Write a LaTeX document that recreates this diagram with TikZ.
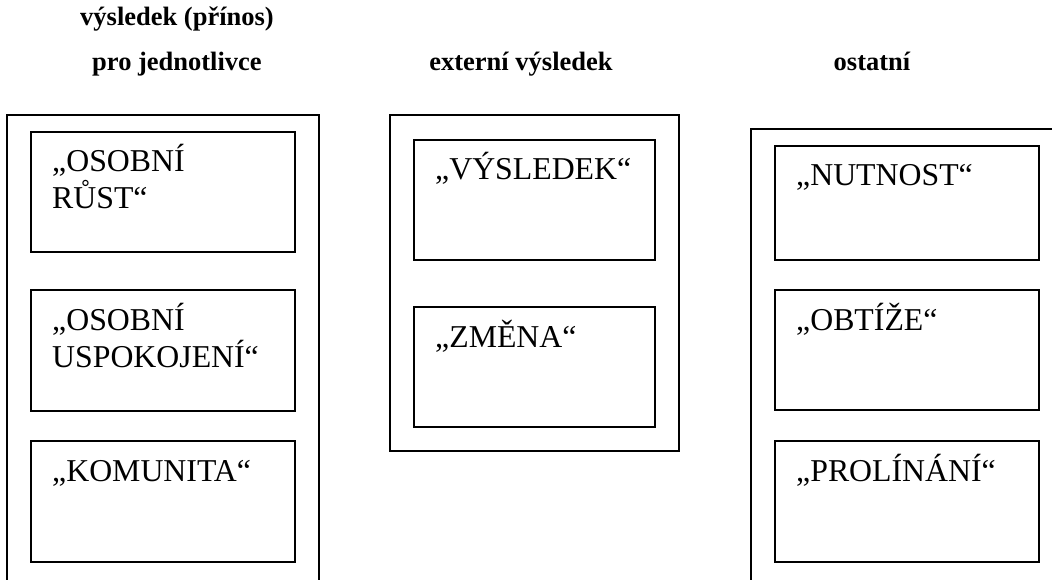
\documentclass[tikz,border=0pt]{standalone}
\usepackage{fontspec}
\setmainfont{Liberation Serif}
\newcommand{\twoln}[2]{\vtop{\hbox{#1}\hbox{#2}}}
\begin{document}
\begin{tikzpicture}[x=1pt,y=-1pt,
  frame/.style={draw, line width=1.6pt, rectangle, inner sep=0pt, outer sep=0pt, anchor=north west},
  card/.style={draw, line width=1.6pt, rectangle, inner sep=0pt, outer sep=0pt, anchor=north west, minimum height=120pt},
  lbl/.style={anchor=base west, inner sep=0pt, font=\fontsize{31.8}{37}\selectfont},
  head/.style={anchor=base, inner sep=0pt, font=\bfseries\fontsize{26.5}{30}\selectfont}]
\path[use as bounding box] (0,0) rectangle (1052,580);
\clip (0,0) rectangle (1052,580);
% headers
\node[head] (h1a) at (177,26) {výsledek (přínos)};
\node[head] (h1b) at (177,71) {pro jednotlivce};
\node[head] (h2) at (521,71) {externí výsledek};
\node[head] (h3) at (872,71) {ostatní};
% left column
\node[frame, minimum width=312pt, minimum height=520pt] (colL) at (7,115) {};
\node[card, minimum width=264pt] (l1) at (31,132) {};
\node[card, minimum width=264pt, minimum height=121pt] (l2) at (31,290) {};
\node[card, minimum width=264pt, minimum height=121pt] (l3) at (31,441) {};
\node[lbl] (t1) at ([xshift=21pt,yshift=-40pt]l1.north west) {\twoln{„OSOBNÍ}{RŮST“}};
\node[lbl] (t2) at ([xshift=21pt,yshift=-40pt]l2.north west) {\twoln{„OSOBNÍ}{USPOKOJENÍ“}};
\node[lbl] (t3) at ([xshift=21pt,yshift=-40pt]l3.north west) {„KOMUNITA“};
% middle column
\node[frame, minimum width=289pt, minimum height=336pt] (colM) at (390,115) {};
\node[card, minimum width=241pt] (m1) at (414,140) {};
\node[card, minimum width=241pt] (m2) at (414,307) {};
\node[lbl] (t4) at ([xshift=21pt,yshift=-40pt]m1.north west) {„VÝSLEDEK“};
\node[lbl] (t5) at ([xshift=21pt,yshift=-40pt]m2.north west) {„ZMĚNA“};
% right column
\node[frame, minimum width=340pt, minimum height=500pt] (colR) at (751,129) {};
\node[card, minimum width=264pt, minimum height=114pt] (r1) at (775,146) {};
\node[card, minimum width=264pt] (r2) at (775,290) {};
\node[card, minimum width=264pt, minimum height=121pt] (r3) at (775,441) {};
\node[lbl] (t6) at ([xshift=21pt,yshift=-40pt]r1.north west) {„NUTNOST“};
\node[lbl] (t7) at ([xshift=21pt,yshift=-40pt]r2.north west) {„OBTÍŽE“};
\node[lbl] (t8) at ([xshift=21pt,yshift=-40pt]r3.north west) {„PROLÍNÁNÍ“};
\end{tikzpicture}
\end{document}
